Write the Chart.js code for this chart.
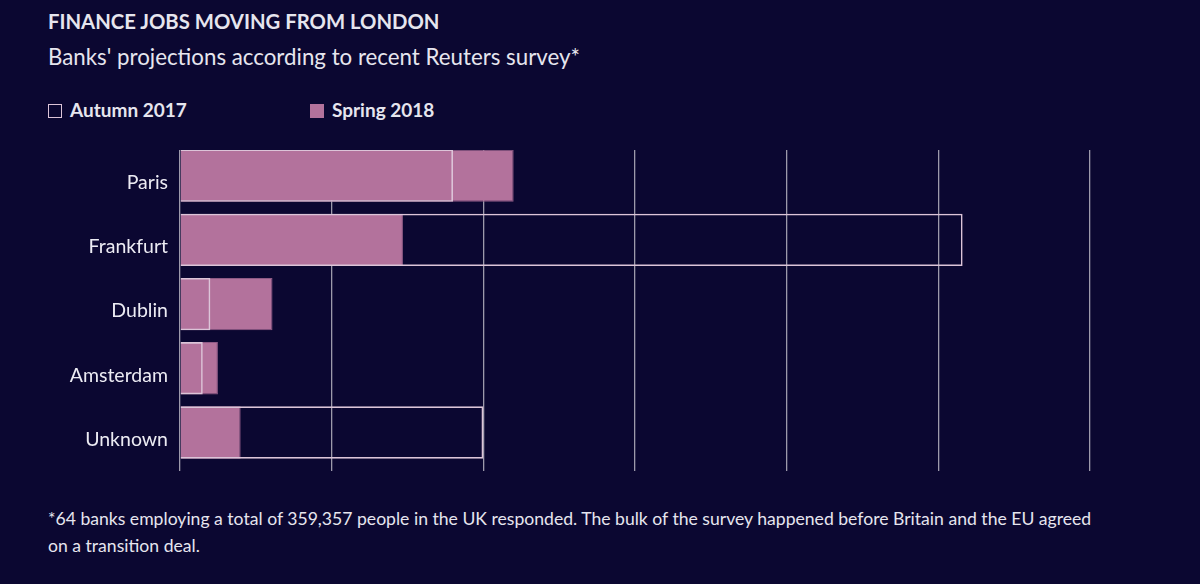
<!DOCTYPE html>
<html>
<head>
<meta charset="utf-8">
<script src="https://cdn.jsdelivr.net/npm/chart.js@4.4.1/dist/chart.umd.min.js"></script>
<style>
  html, body { margin: 0; padding: 0; background: #0b0731; width: 1200px; height: 584px; overflow: hidden; font-family: Lato, "Open Sans", sans-serif; color: #e6e5ee; }
  #title { position: absolute; left: 48px; top: 9px; font-size: 20.3px; font-weight: 700; }
  #subtitle { position: absolute; left: 48px; top: 43px; font-size: 22.3px; font-weight: 400; }
  #legend { position: absolute; left: 48px; top: 97px; height: 26px; }
  .item { position: absolute; top: 0; white-space: nowrap; font-size: 19px; font-weight: 700; line-height: 26px; }
  .box { display: inline-block; width: 14px; height: 14px; box-sizing: border-box; vertical-align: -1px; margin-right: 8px; }
  #wrap { position: absolute; left: 0; top: 140px; width: 1200px; height: 340px; }
  #foot { position: absolute; left: 48px; top: 505px; font-size: 17.6px; line-height: 27px; }
</style>
</head>
<body>
<div id="title">FINANCE JOBS MOVING FROM LONDON</div>
<div id="subtitle">Banks' projections according to recent Reuters survey*</div>
<div id="legend"></div>
<div id="wrap"><canvas id="c" width="1200" height="340"></canvas></div>
<div id="foot">*64 banks employing a total of 359,357 people in the UK responded. The bulk of the survey happened before Britain and the EU agreed<br>on a transition deal.</div>
<script>
// Data (thousands of jobs)
const categories = ["Paris", "Frankfurt", "Dublin", "Amsterdam", "Unknown"];
const autumn2017 = [1.80, 5.16, 0.20, 0.15, 2.00];
const spring2018 = [2.20, 1.47, 0.61, 0.25, 0.40];
const seriesNames = ["Autumn 2017", "Spring 2018"];
const xTicks = [0, 1, 2, 3, 4, 5, 6];

const fillColor = "#b3729c";
const outlineColor = "#dcc4d8";
const gridColor = "#9d9aab";

const toPoints = arr => arr.map((v, i) => ({ x: v, y: i }));

const datasets = [
  {
    label: seriesNames[0],
    data: toPoints(autumn2017),
    backgroundColor: "rgba(0,0,0,0)",
    borderColor: outlineColor,
    borderWidth: 1.6,
    order: 0,
    grouped: false,
    barPercentage: 0.815,
    categoryPercentage: 1
  },
  {
    label: seriesNames[1],
    data: toPoints(spring2018),
    backgroundColor: fillColor,
    borderColor: "#8e5a85",
    borderWidth: 1,
    order: 1,
    grouped: false,
    barPercentage: 0.815,
    categoryPercentage: 1
  }
];

// HTML legend built from the datasets
const legendPos = [0, 262];
const legendEl = document.getElementById("legend");
datasets.forEach((ds, i) => {
  const it = document.createElement("div");
  it.className = "item";
  it.style.left = legendPos[i] + "px";
  const b = document.createElement("span");
  b.className = "box";
  if (i === 0) { b.style.border = "1.5px solid " + outlineColor; }
  else { b.style.background = fillColor; }
  it.appendChild(b);
  it.appendChild(document.createTextNode(ds.label));
  legendEl.appendChild(it);
});

new Chart(document.getElementById("c"), {
  type: "bar",
  data: { datasets },
  options: {
    indexAxis: "y",
    responsive: false,
    animation: false,
    layout: { padding: { left: 0, right: 110, top: 10, bottom: 9 } },
    plugins: { legend: { display: false }, tooltip: { enabled: false } },
    scales: {
      x: {
        type: "linear",
        min: xTicks[0],
        max: xTicks[xTicks.length - 1],
        afterBuildTicks: s => { s.ticks = xTicks.map(v => ({ value: v })); },
        ticks: { display: false },
        grid: { color: gridColor, lineWidth: 1.3, drawTicks: false, offset: false },
        border: { display: false },
        afterFit: s => { s.height = 0; s.paddingLeft = 0; s.paddingRight = 0; }
      },
      y: {
        type: "linear",
        reverse: true,
        offset: false,
        min: -0.4,
        max: 4.6,
        afterBuildTicks: s => { s.ticks = categories.map((c, i) => ({ value: i })); },
        ticks: {
          callback: v => categories[v],
          color: "#ecebf3",
          font: { family: "Lato", size: 19.5 },
          padding: 12,
          labelOffset: 7
        },
        grid: { display: false, drawTicks: false, offset: false },
        border: { display: false },
        afterFit: s => { s.width = 180; s.paddingTop = 0; s.paddingBottom = 0; }
      }
    }
  }
});
</script>
</body>
</html>
